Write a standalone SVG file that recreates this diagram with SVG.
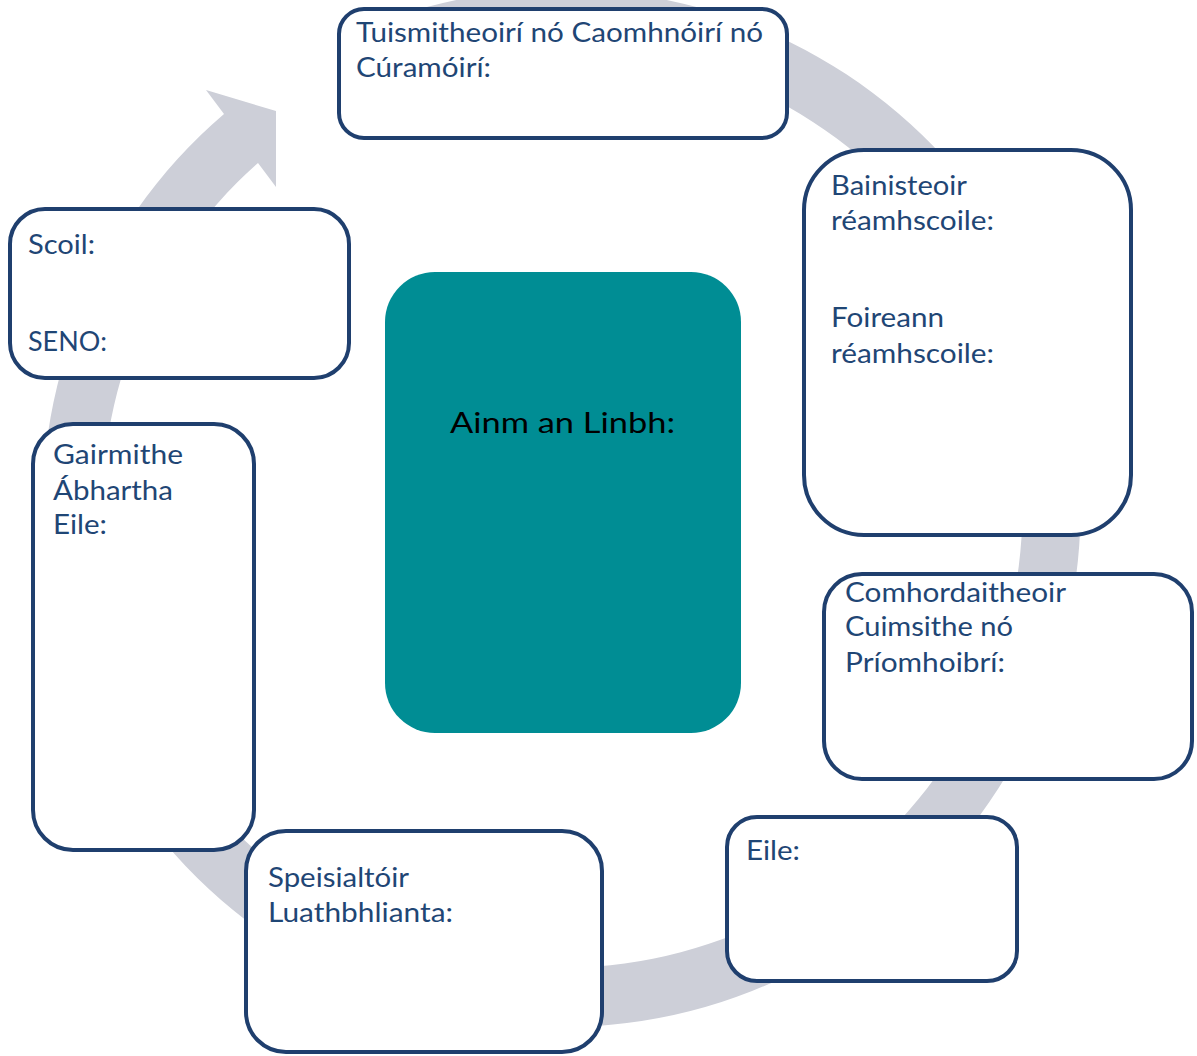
<svg xmlns="http://www.w3.org/2000/svg" width="1197" height="1056" viewBox="0 0 1197 1056">
  <style>
    .box { fill: #FFFFFF; stroke: #1F3F6E; stroke-width: 4; }
    .lbl { font-family: Lato, "Noto Sans", "Liberation Sans", sans-serif; font-size: 27px; fill: #1F4675; }
    .center { fill: #008D94; }
    .ctxt { font-family: Lato, "Noto Sans", "Liberation Sans", sans-serif; font-size: 29px; fill: #000000; }
    .band { fill: #CDCFD8; }
  </style>
  <rect width="1197" height="1056" fill="#FFFFFF"/>
  <g id="connectors">
    <path class="band" d="M 350.9 33.9 A 519 519 0 1 1 224 114 L 206 90 L 276 111 L 276 187 L 258 163 A 460 460 0 1 0 374.9 87.8 Z"/>
  </g>
  <g id="node-center">
    <rect class="center" x="385" y="272" width="356" height="461" rx="50"/>
    <text class="ctxt" x="450" y="433" textLength="225" lengthAdjust="spacingAndGlyphs">Ainm an Linbh:</text>
  </g>
  <g id="node-parents">
    <rect class="box" x="339" y="9" width="448" height="129" rx="25"/>
    <text class="lbl" x="356" y="42" textLength="407" lengthAdjust="spacingAndGlyphs">Tuismitheoirí nó Caomhnóirí nó</text>
    <text class="lbl" x="356" y="77" textLength="135" lengthAdjust="spacingAndGlyphs">Cúramóirí:</text>
  </g>
  <g id="node-preschool">
    <rect class="box" x="804" y="150" width="327" height="385" rx="60"/>
    <text class="lbl" x="831" y="195" textLength="136" lengthAdjust="spacingAndGlyphs">Bainisteoir</text>
    <text class="lbl" x="831" y="230" textLength="163" lengthAdjust="spacingAndGlyphs">réamhscoile:</text>
    <text class="lbl" x="831" y="327" textLength="113" lengthAdjust="spacingAndGlyphs">Foireann</text>
    <text class="lbl" x="831" y="363" textLength="163" lengthAdjust="spacingAndGlyphs">réamhscoile:</text>
  </g>
  <g id="node-coordinator">
    <rect class="box" x="824" y="574" width="368" height="205" rx="38"/>
    <text class="lbl" x="845" y="602" textLength="221" lengthAdjust="spacingAndGlyphs">Comhordaitheoir</text>
    <text class="lbl" x="845" y="636" textLength="168" lengthAdjust="spacingAndGlyphs">Cuimsithe nó</text>
    <text class="lbl" x="845" y="672" textLength="160" lengthAdjust="spacingAndGlyphs">Príomhoibrí:</text>
  </g>
  <g id="node-other">
    <rect class="box" x="727" y="817" width="290" height="164" rx="30"/>
    <text class="lbl" x="746" y="860" textLength="54" lengthAdjust="spacingAndGlyphs">Eile:</text>
  </g>
  <g id="node-specialist">
    <rect class="box" x="246" y="831" width="356" height="221" rx="40"/>
    <text class="lbl" x="268" y="887" textLength="141" lengthAdjust="spacingAndGlyphs">Speisialtóir</text>
    <text class="lbl" x="268" y="922" textLength="185" lengthAdjust="spacingAndGlyphs">Luathbhlianta:</text>
  </g>
  <g id="node-professionals">
    <rect class="box" x="33" y="424" width="221" height="426" rx="40"/>
    <text class="lbl" x="53" y="464" textLength="130" lengthAdjust="spacingAndGlyphs">Gairmithe</text>
    <text class="lbl" x="53" y="500" textLength="120" lengthAdjust="spacingAndGlyphs">Ábhartha</text>
    <text class="lbl" x="53" y="534" textLength="54" lengthAdjust="spacingAndGlyphs">Eile:</text>
  </g>
  <g id="node-school">
    <rect class="box" x="10" y="209" width="339" height="169" rx="35"/>
    <text class="lbl" x="28" y="254" textLength="67" lengthAdjust="spacingAndGlyphs">Scoil:</text>
    <text class="lbl" x="28" y="351" textLength="79" lengthAdjust="spacingAndGlyphs">SENO:</text>
  </g>
</svg>
